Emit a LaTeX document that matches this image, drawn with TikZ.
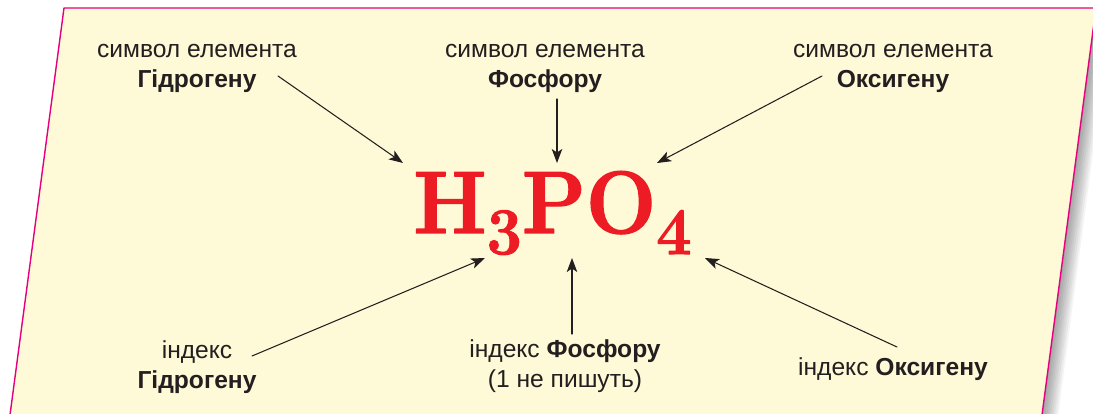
\documentclass[tikz,border=0pt]{standalone}
\usepackage{fontspec}
\newfontfamily\lblfont{Liberation Sans}
\newfontfamily\formfont{Latin Modern Roman}[BoldFeatures={FakeBold=1.6}]
\usetikzlibrary{arrows.meta}

\definecolor{paper}{HTML}{FEF9D6}
\definecolor{rim}{HTML}{E6007E}
\definecolor{acid}{HTML}{ED1C24}
\definecolor{ink}{HTML}{231F20}

\begin{document}
\begin{tikzpicture}[x=0.02cm,y=-0.02cm,line cap=round,line join=round,
  lbl/.style={font=\lblfont\fontsize{14}{16.7}\selectfont,text=ink,align=center,inner sep=0pt},
  pointer/.style={draw=ink,line width=0.6pt,-{Stealth[length=8pt,width=6pt,inset=2pt]}}]

\useasboundingbox (0,0) rectangle (1093,413);
\fill[white] (0,0) rectangle (1093,413);

% sheet with shadow
\begin{scope}
\clip (0,0) rectangle (1093,413);
\foreach \d in {1,...,9}
  \fill[black,opacity=0.045,xshift=\d pt,yshift=-0.2*\d pt]
    (64,8) -- (1096,8) -- (1040,430) -- (8,430) -- cycle;
\fill[paper] (64,8) -- (1096,8) -- (1040,430) -- (8,430) -- cycle;
\draw[rim,line width=0.8pt] (64,8) -- (1096,8) -- (1040,430) -- (8,430) -- cycle;
\end{scope}

% formula
\node[anchor=base west,inner sep=0pt,text=acid,font=\formfont\bfseries\fontsize{50.4}{52}\selectfont] (acid) at (413,233)
  {\scalebox{0.94}[1]{H\raisebox{-12pt}{\fontsize{38}{38}\selectfont 3}PO\raisebox{-12pt}{\fontsize{38}{38}\selectfont 4}}};

% labels
\node[lbl,anchor=base] (symH) at (197,87) {символ елемента\\\textbf{Гідрогену}};
\node[lbl,anchor=base] (symP) at (545,87) {символ елемента\\\textbf{Фосфору}};
\node[lbl,anchor=base] (symO) at (893,87) {символ елемента\\\textbf{Оксигену}};
\node[lbl,anchor=base] (idxH) at (197,388) {індекс\\\textbf{Гідрогену}};
\node[lbl,anchor=base] (idxP) at (565,387) {індекс \textbf{Фосфору}\\(1 не пишуть)};
\node[lbl,anchor=base] (idxO) at (893,375) {індекс \textbf{Оксигену}};

% arrow ends
\coordinate (fromH) at (278,76);
\coordinate (toH)   at (403,163);
\coordinate (fromP) at (557,99);
\coordinate (toP)   at (557,163);
\coordinate (fromO) at (822,76);
\coordinate (toO)   at (657,163);
\coordinate (fromiH) at (252,356);
\coordinate (toiH)   at (485,258);
\coordinate (fromiP) at (572,334);
\coordinate (toiP)   at (572,258);
\coordinate (fromiO) at (897,347);
\coordinate (toiO)   at (705,258);

% arrows
\draw[pointer] (fromH) -- (toH);
\draw[pointer] (fromP) -- (toP);
\draw[pointer] (fromO) -- (toO);
\draw[pointer] (fromiH) -- (toiH);
\draw[pointer] (fromiP) -- (toiP);
\draw[pointer] (fromiO) -- (toiO);

\end{tikzpicture}
\end{document}
